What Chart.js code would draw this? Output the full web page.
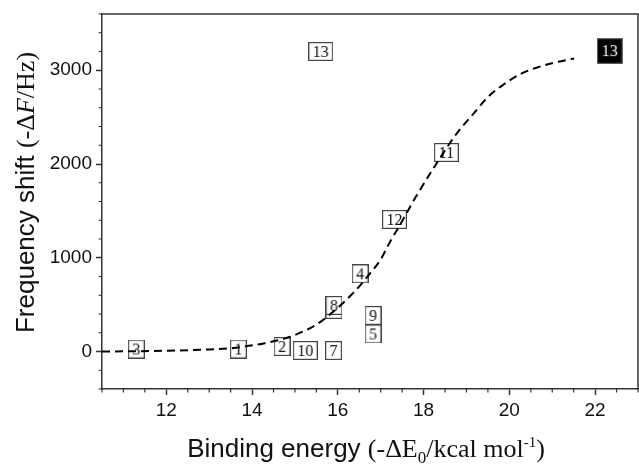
<!DOCTYPE html>
<html lang="en">
<head>
    <meta charset="UTF-8">
    <title>Frequency shift vs binding energy</title>
    <script src="https://cdn.jsdelivr.net/npm/chart.js"></script>
    <style>
        html, body { margin: 0; padding: 0; background: #fff; overflow: hidden; }
        canvas { display: block; }
    </style>
</head>
<body>
    <canvas id="shiftChart" width="639" height="464"></canvas>

    <script>
        // labelled points (box text, binding energy, frequency shift)
        const pointLabels = ['3', '1', '2', '10', '7', '6', '8', '4', '9', '5', '12', '11', '13'];
        const pointEnergy = [11.30, 13.68, 14.70, 15.24, 15.90, 15.91, 15.91, 16.52, 16.82, 16.82, 17.32, 18.53, 15.60];
        const pointShift = [26, 26, 53, 11, 10, 448, 491, 829, 384, 187, 1408, 2123, 3200];

        // the black (filled) point
        const darkLabels = ['13'];
        const darkEnergy = [22.34];
        const darkShift = [3204];

        // dashed fit curve
        const fitEnergy = [10.5, 11.3, 12.26, 13.0, 13.49, 14.3, 14.87, 15.53, 15.93, 16.42, 16.75, 16.99, 17.24, 17.45, 17.69, 17.82, 18.28, 18.78, 19.17, 19.49, 19.87, 20.26, 20.65, 21.04, 21.51];
        const fitShift = [0, 3, 11, 22, 34, 89, 154, 296, 439, 654, 832, 975, 1189, 1350, 1546, 1650, 1990, 2330, 2540, 2710, 2850, 2960, 3030, 3080, 3125];

        // axis ticks
        const xTicks = [12, 14, 16, 18, 20, 22];
        const yTicks = [0, 1000, 2000, 3000];

        const sans = 'Liberation Sans, Arial, sans-serif';
        const serif = 'Liberation Serif, Times New Roman, serif';

        // small canvas with a number in a box, used as point style
        function makeBox(text, dark) {
            const c = document.createElement('canvas');
            const g = c.getContext('2d');
            g.font = '16px ' + serif;
            const w = dark ? 26 : Math.ceil(g.measureText(text).width + 9);
            const h = dark ? 26 : 19;
            c.width = w;
            c.height = h;
            g.fillStyle = dark ? '#000' : '#fff';
            g.fillRect(0, 0, w, h);
            g.strokeStyle = dark ? '#666' : '#444';
            g.lineWidth = 1.2;
            g.strokeRect(0.6, 0.6, w - 1.2, h - 1.2);
            g.font = '16px ' + serif;
            g.fillStyle = dark ? '#fff' : '#111';
            g.textAlign = 'center';
            g.textBaseline = 'middle';
            g.fillText(text, w / 2, h / 2 + 1);
            return c;
        }

        // draw a line of text made of pieces with different fonts
        function drawRich(ctx, parts, cx, cy) {
            let total = 0;
            parts.forEach(p => { ctx.font = p.font; p.w = ctx.measureText(p.t).width; total += p.w; });
            let x = cx - total / 2;
            ctx.textAlign = 'left';
            ctx.textBaseline = 'alphabetic';
            ctx.fillStyle = '#111';
            parts.forEach(p => {
                ctx.font = p.font;
                ctx.fillText(p.t, x, cy + (p.dy || 0));
                x += p.w;
            });
        }

        const framePlugin = {
            id: 'frame',
            afterDraw(chart) {
                const { ctx, chartArea: a, scales } = chart;
                ctx.save();
                ctx.strokeStyle = '#333';
                ctx.lineWidth = 1.5;
                ctx.beginPath();
                ctx.moveTo(a.left, a.top);
                ctx.lineTo(a.right, a.top);
                ctx.lineTo(a.right, a.bottom);
                ctx.stroke();

                // minor ticks
                ctx.lineWidth = 1.2;
                ctx.beginPath();
                for (let v = 10.5; v <= 23; v += 0.5) {
                    if (xTicks.includes(v)) continue;
                    const px = scales.x.getPixelForValue(v);
                    ctx.moveTo(px, a.bottom);
                    ctx.lineTo(px, a.bottom + 3.5);
                }
                for (let v = -400; v <= 3600; v += 200) {
                    if (yTicks.includes(v)) continue;
                    const py = scales.y.getPixelForValue(v);
                    ctx.moveTo(a.left, py);
                    ctx.lineTo(a.left - 3.5, py);
                }
                ctx.stroke();

                // axis titles
                drawRich(ctx, [
                    { t: 'Binding energy ', font: '26px ' + sans },
                    { t: '(-ΔE', font: '26px ' + serif },
                    { t: '0', font: '17px ' + serif, dy: 6 },
                    { t: '/kcal mol', font: '26px ' + serif },
                    { t: '-1', font: '15px ' + serif, dy: -10 },
                    { t: ')', font: '26px ' + serif }
                ], (a.left + a.right) / 2 - 4, 457);

                ctx.translate(34, (a.top + a.bottom) / 2 - 9);
                ctx.rotate(-Math.PI / 2);
                drawRich(ctx, [
                    { t: 'Frequency shift ', font: '26px ' + sans },
                    { t: '(-Δ', font: '26px ' + serif },
                    { t: 'F', font: 'italic 26px ' + serif },
                    { t: '/Hz)', font: '26px ' + serif }
                ], 0, 0);
                ctx.restore();
            }
        };

        const ctx = document.getElementById('shiftChart').getContext('2d');
        const shiftChart = new Chart(ctx, {
            type: 'scatter',
            data: {
                datasets: [{
                    type: 'line',
                    label: 'fit',
                    data: fitEnergy.map((e, i) => ({ x: e, y: fitShift[i] })),
                    borderColor: '#000',
                    borderWidth: 2,
                    borderDash: [8, 5],
                    pointRadius: 0,
                    fill: false,
                    cubicInterpolationMode: 'monotone',
                    order: 0
                }, {
                    label: 'points',
                    data: pointEnergy.map((e, i) => ({ x: e, y: pointShift[i] })),
                    pointStyle: pointLabels.map(t => makeBox(t, false)),
                    pointRadius: 9,
                    order: 1
                }, {
                    label: 'dark',
                    data: darkEnergy.map((e, i) => ({ x: e, y: darkShift[i] })),
                    pointStyle: darkLabels.map(t => makeBox(t, true)),
                    pointRadius: 13,
                    order: 1
                }]
            },
            options: {
                responsive: false,
                animation: false,
                // no automatic room for edge labels, plot box fixed by hand
                layout: { autoPadding: false, padding: { top: 14, right: 1, left: 0, bottom: 0 } },
                plugins: {
                    legend: { display: false },
                    tooltip: { enabled: false }
                },
                scales: {
                    x: {
                        type: 'linear',
                        min: 10.5,
                        max: 23,
                        afterBuildTicks: s => { s.ticks = xTicks.map(v => ({ value: v })); },
                        afterFit: s => { s.height = 75; s.paddingLeft = 0; s.paddingRight = 0; },
                        grid: { drawOnChartArea: false, tickLength: 6, tickColor: '#333', tickWidth: 1.5 },
                        border: { color: '#333', width: 1.5 },
                        ticks: { font: { family: sans, size: 19 }, color: '#111', padding: 4, maxRotation: 0, autoSkip: false, callback: v => String(v) }
                    },
                    y: {
                        min: -400,
                        max: 3600,
                        afterBuildTicks: s => { s.ticks = yTicks.map(v => ({ value: v })); },
                        afterFit: s => { s.width = 102; s.paddingTop = 0; s.paddingBottom = 0; },
                        grid: { drawOnChartArea: false, tickLength: 6, tickColor: '#333', tickWidth: 1.5 },
                        border: { color: '#333', width: 1.5 },
                        ticks: { font: { family: sans, size: 19 }, color: '#111', padding: 4, autoSkip: false, callback: v => String(v) }
                    }
                }
            },
            plugins: [framePlugin]
        });
    </script>
</body>
</html>
